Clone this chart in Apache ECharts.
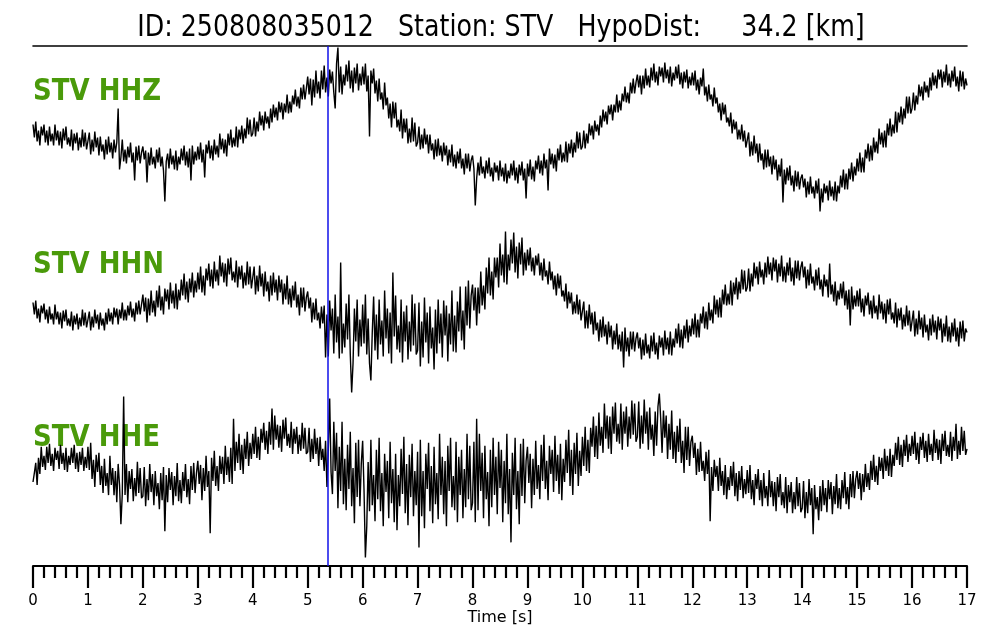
<!DOCTYPE html>
<html>
<head>
<meta charset="utf-8">
<script src="https://cdn.jsdelivr.net/npm/echarts@6/dist/echarts.min.js"></script>
<style>
html,body{margin:0;padding:0;background:#fff;}
#chart{width:1000px;height:640px;}
</style>
</head>
<body>
<div id="chart"></div>
<script>
// ---- data (amplitude in arbitrary units, up = positive) ----
const titleText = 'ID: 250808035012   Station: STV   HypoDist:     34.2 [km]';
const channelNames = ['STV HHZ', 'STV HHN', 'STV HHE'];
const sampleInterval = 0.025;  // seconds between samples
const pickTime = 5.357;        // blue pick line [s]
const timeTicks = [0,1,2,3,4,5,6,7,8,9,10,11,12,13,14,15,16,17];

const hhz = [
 8,-5,11,-9,2,-13,6,-3,8,-10,2,-13,6,-9,-1,-13,8,-8,2,-13,1,-16,4,-8,6,-12,-5,-14,3,-18,-1,-11,0,-18,-5,-15,3,-14,0,-17,
 -16,0,-22,-7,-19,1,-15,-5,-23,-4,-19,-12,-27,-7,-22,-4,-20,-10,-26,-7,-20,-10,24,-37,-25,-7,-29,-17,-31,-14,-25,-10,-30,-20,-48,-14,-28,-13,-31,-20,
 -14,-27,-18,-50,-20,-33,-15,-32,-24,-36,-17,-30,-15,-34,-24,-38,-69,-29,-21,-36,-16,-32,-23,-37,-18,-38,-24,-32,-16,-28,-13,-33,-19,-35,-16,-48,-13,-32,-19,-28,
 -14,-27,-10,-30,-17,-45,-12,-21,-8,-26,-13,-28,-7,-22,-13,-25,-1,-17,-6,-21,-7,-24,-1,-13,3,-15,-5,-14,6,-15,3,-7,7,-11,4,-6,15,-2,13,-4,
 -1,15,-4,11,1,21,7,17,2,21,9,16,4,24,10,28,15,25,12,31,20,30,13,29,20,38,19,31,20,37,28,43,26,36,24,45,33,48,33,44,
 56,38,54,27,53,35,62,39,51,34,62,43,67,40,55,36,63,49,61,40,24,69,85,40,66,38,58,47,68,51,72,44,62,40,65,49,69,42,59,47,
 66,48,69,41,57,-4,62,49,64,39,52,31,54,33,40,23,50,27,35,14,29,5,31,14,30,5,13,1,23,-6,14,0,14,-11,4,-10,15,-9,10,-14,
 -10,6,-17,-2,-16,4,-12,-2,-21,-2,-18,-11,-27,-7,-24,-6,-23,-13,-29,-10,-23,-13,-33,-17,-30,-12,-34,-22,-36,-19,-31,-16,-36,-26,-42,-21,-36,-21,-39,-28,
 -23,-36,-73,-46,-30,-43,-24,-41,-34,-46,-28,-41,-25,-44,-35,-49,-30,-40,-33,-48,-28,-44,-35,-49,-31,-51,-38,-46,-31,-43,-28,-48,-35,-51,-32,-43,-29,-48,-36,-66,
 -31,-44,-27,-47,-34,-49,-28,-37,-23,-41,-28,-43,-21,-36,-27,-58,-16,-32,-21,-36,-22,-39,-16,-28,-12,-30,-20,-29,-9,-30,-11,-21,-7,-25,-10,-20,1,-16,0,-17,
 -14,2,-16,-1,-11,9,-3,7,-7,12,1,8,-3,17,5,23,11,21,8,27,18,28,12,28,20,38,20,32,22,39,31,46,30,40,29,50,39,54,39,50,
 58,45,57,38,57,44,64,47,57,45,65,52,69,50,61,47,66,56,65,50,70,54,63,49,66,46,60,52,66,54,68,48,60,44,61,50,63,44,56,47,
 60,47,62,42,53,38,55,46,64,37,46,31,48,33,38,26,45,29,35,20,29,12,30,18,28,10,15,6,20,-1,13,3,11,-7,3,-7,8,-9,2,-15,
 -16,0,-24,-9,-23,-3,-21,-11,-30,-11,-28,-21,-37,-17,-35,-17,-34,-24,-42,-23,-37,-27,-48,-32,-44,-26,-70,-37,-52,-35,-48,-33,-53,-43,-59,-38,-54,-39,-57,-46,
 -42,-55,-46,-65,-49,-62,-44,-61,-54,-66,-48,-61,-46,-79,-56,-70,-51,-61,-53,-68,-48,-64,-54,-68,-49,-69,-53,-61,-43,-55,-37,-57,-41,-57,-36,-47,-30,-49,-34,-43,
 -26,-39,-20,-40,-25,-40,-17,-26,-11,-29,-13,-28,-5,-20,-9,-21,4,-12,0,-15,2,-15,9,-3,14,-4,8,-1,21,0,20,10,26,8,24,14,36,19,36,19,
 24,40,22,37,28,48,36,46,32,51,40,47,35,55,42,60,47,57,44,63,53,63,45,61,50,68,47,59,45,62,51,66,46,56,41,62,46,61,43,54,
 47
];

const hhn = [
 3,-9,5,-13,-3,-17,0,-8,2,-14,-4,-18,-1,-14,-8,-19,1,-14,-6,-19,-7,-23,-5,-16,-4,-20,-13,-21,-6,-25,-10,-19,-8,-24,-12,-21,-4,-20,-7,-22,
 -20,-6,-25,-11,-22,-4,-18,-9,-24,-7,-20,-13,-25,-7,-19,-3,-16,-7,-19,-2,-12,-3,-19,-4,-13,3,-15,-4,-15,0,-10,4,-12,-3,-16,3,-9,5,-9,1,
 11,-6,8,-17,7,-10,15,-7,5,-11,15,-2,20,-5,9,-9,17,4,16,-4,23,2,15,-3,22,-4,16,5,26,10,32,6,24,3,27,13,33,8,25,13,
 33,16,39,13,30,10,37,25,42,19,36,17,44,24,36,20,50,29,43,23,42,19,47,31,48,25,34,23,45,18,39,26,40,17,33,20,44,21,39,17,
 18,39,11,30,14,40,19,32,9,34,14,24,4,30,10,33,13,26,5,30,13,26,1,22,6,30,1,17,-2,20,5,24,-2,11,-10,18,-2,18,-6,8,
 14,-3,8,-17,3,-14,7,-15,-7,-23,-1,-18,0,-52,-9,-51,5,-25,-3,-48,11,-37,-11,-53,43,-48,-18,-42,2,-34,11,-49,-87,-58,-3,-36,6,-51,-14,-41,
 1,-38,11,-49,-13,-58,-75,-27,9,-45,-9,-54,6,-39,-15,-51,15,-33,-3,-48,-7,-58,33,-31,10,-44,-20,-47,6,-57,-6,-36,0,-54,-16,-46,11,-40,2,-49,
 -45,3,-61,-16,-52,8,-37,-7,-58,-1,-43,-22,-64,-4,-48,6,-38,-8,-52,5,-30,0,-56,-8,-39,15,-46,-10,-47,4,-26,19,-35,-5,-44,19,-20,25,-23,10,
 21,-5,18,-20,18,-8,34,0,20,-4,38,12,48,10,34,6,48,28,48,18,62,30,51,23,74,21,51,35,66,42,73,33,59,27,63,41,68,30,53,35,
 56,40,58,34,48,30,50,40,52,30,43,25,47,29,35,21,44,25,34,16,30,10,32,17,30,9,15,4,22,-3,14,2,13,-9,4,-8,11,-9,6,-15,
 -15,4,-23,-5,-23,1,-19,-7,-29,-6,-25,-17,-36,-14,-32,-11,-31,-19,-39,-16,-32,-20,-44,-25,-39,-18,-44,-29,-46,-26,-62,-22,-46,-32,-51,-26,-44,-26,-46,-33,
 -27,-43,-32,-54,-34,-50,-28,-48,-39,-53,-30,-46,-27,-49,-37,-54,-30,-42,-32,-50,-25,-44,-32,-49,-26,-50,-33,-42,-23,-38,-18,-42,-24,-43,-20,-33,-14,-37,-20,-31,
 -13,-29,-8,-32,-14,-32,-8,-18,-1,-23,-6,-24,3,-15,-4,-18,10,-9,6,-12,8,-12,16,1,21,0,12,1,25,0,23,11,28,6,24,12,36,16,35,14,
 18,37,14,32,19,43,27,39,21,44,28,36,21,43,28,49,31,43,25,48,34,46,23,42,29,50,24,39,23,43,30,48,24,38,20,45,27,45,25,38,
 44,28,39,17,36,20,42,22,29,15,36,20,38,16,26,9,31,19,26,8,42,11,21,4,24,0,15,6,22,7,24,0,15,-4,16,-20,19,-4,10,-1,
 15,-1,17,-7,7,-11,10,0,13,-9,5,-13,10,-8,0,-14,11,-8,4,-14,2,-18,6,-9,7,-14,-7,-18,3,-22,-3,-15,-2,-24,-9,-21,0,-20,-5,-26,
 -24,-5,-31,-13,-29,-5,-24,-12,-32,-9,-27,-19,-35,-13,-30,-9,-27,-15,-34,-11,-25,-13,-37,-18,-31,-10,-36,-21,-37,-17,-31,-13,-36,-22,-41,-16,-33,-15,-36,-23,
 -27
];

const hhe = [
 -3,6,16,-6,21,5,32,12,23,9,32,16,35,13,25,8,31,19,28,10,34,15,26,9,31,7,23,14,31,16,34,10,26,7,27,14,31,8,22,11,
 32,9,36,0,19,-8,24,7,26,-6,13,-14,20,-7,6,-16,23,-6,11,-16,8,-23,15,-6,-45,-15,82,-16,15,-23,8,-10,10,-22,1,-17,17,-14,11,-19,
 -17,12,-27,0,-21,15,-13,5,-26,8,-17,-4,-30,6,-21,12,-52,4,-23,11,-11,7,-26,3,-17,16,-22,-1,-24,7,-12,15,-18,0,-25,13,-11,16,-14,6,
 18,-5,14,-21,11,-12,23,-8,8,-54,21,-2,28,-7,13,-12,23,5,22,-5,33,4,22,-3,31,-5,60,8,37,16,45,9,34,5,40,20,47,13,36,20,
 45,25,52,21,42,19,50,36,56,29,48,25,57,34,70,29,63,39,54,31,53,27,59,40,61,33,45,31,57,25,50,35,52,25,44,28,56,30,51,25,
 27,51,17,40,20,50,25,41,13,42,19,30,8,38,-8,30,80,7,-15,57,8,46,-29,32,-12,57,-25,20,-31,34,-10,47,-27,11,-44,36,-18,39,-27,15,
 38,-11,-78,-47,17,-32,39,-26,4,-42,29,-20,41,-32,6,-47,25,-13,18,-39,37,-24,10,-43,25,-51,4,-27,30,-15,42,-34,15,-46,24,-18,35,-37,8,-26,
 27,-68,39,-37,8,-49,25,-10,36,-32,13,-44,32,-25,6,-40,45,-16,22,-35,18,-47,33,-12,41,-28,3,-31,37,-43,22,-16,29,-39,10,-28,45,-20,33,-31,
 -24,37,-43,60,-31,45,-12,26,-39,33,-20,7,-47,29,-28,41,-16,22,-35,37,-9,29,-43,18,-24,45,-35,10,-63,26,-16,41,-30,8,-45,35,-17,40,-24,18,
 32,-4,25,-29,20,-16,38,-10,14,-20,34,-2,44,-10,18,-21,33,5,29,-13,43,-2,24,-15,35,-21,20,-3,39,6,49,-7,29,-16,36,5,46,-7,28,3,
 42,13,52,8,39,6,51,32,62,22,53,20,66,33,52,26,75,40,63,30,62,25,72,45,76,37,55,35,75,29,67,45,72,32,62,40,78,44,75,37,
 42,77,30,63,35,79,45,67,29,71,39,54,23,67,33,72,85,60,26,68,41,63,20,55,29,68,20,47,16,53,27,60,16,38,6,52,19,52,13,37,
 43,21,36,4,30,7,37,8,18,-2,27,5,29,-42,12,-12,19,2,13,-12,21,-7,8,-16,14,-20,2,-11,13,-7,17,-17,6,-22,8,-11,13,-19,0,-15,
 9,-14,14,-20,-1,-26,5,-10,10,-21,-1,-27,6,-19,-7,-27,9,-18,-2,-27,-3,-32,2,-18,5,-26,-13,-29,2,-34,-6,-23,-3,-34,-13,-30,2,-27,-4,-33,
 -29,-2,-39,-13,-34,0,-26,-9,-55,-6,-30,-18,-41,-7,-32,-1,-26,-9,-33,-1,-20,-3,-35,-7,-25,5,-29,-9,-30,-1,-19,7,-25,-8,-30,5,-18,8,-19,0,
 8,-10,6,-21,5,-13,15,-8,6,-11,18,-1,24,-3,13,-6,22,8,21,0,30,8,23,3,30,2,24,13,36,19,42,14,34,12,39,23,44,17,35,23,
 43,25,47,19,36,15,42,29,46,21,38,17,45,24,35,18,49,26,40,19,39,15,45,28,48,23,34,22,47,18,42,28,55,20,38,24,52,28,48,24,
 30
];

// ---- chart ----
const FONT = 'DejaVu Sans';
const traces = [hhz, hhn, hhe];
const toXY = arr => arr.map((v, i) => [+(i * sampleInterval).toFixed(3), v]);

const gridTops = [46, 219, 392];
const gridH = 173;
const labelColor = '#4a9a0a';
const TEXT_STRETCH = 1.18;

const grids = gridTops.map((t, i) => ({left: 33, right: 33, top: t, height: i === 2 ? 174 : gridH}));

const xAxes = [0, 1, 2].map(i => {
  const base = {
    type: 'value', gridIndex: i, min: timeTicks[0], max: timeTicks[timeTicks.length - 1],
    interval: 1, splitLine: {show: false}
  };
  if (i === 0) {
    return Object.assign(base, {
      position: 'top',
      axisLine: {show: true, onZero: false, lineStyle: {color: '#000', width: 1.6}},
      axisTick: {show: false}, axisLabel: {show: false}
    });
  }
  if (i === 1) {
    return Object.assign(base, {show: false});
  }
  return Object.assign(base, {
    position: 'bottom',
    axisLine: {show: true, onZero: false, lineStyle: {color: '#000', width: 2}},
    axisTick: {show: true, length: 22, lineStyle: {color: '#000', width: 2.2}},
    minorTick: {show: true, splitNumber: 5, length: 12, lineStyle: {color: '#000', width: 2.2}},
    axisLabel: {
      show: true, color: '#000', fontSize: 15, fontFamily: FONT, margin: 28,
      formatter: v => (timeTicks.indexOf(v) >= 0 ? String(v) : '')
    },
    name: 'Time [s]', nameLocation: 'middle', nameGap: 43,
    nameTextStyle: {color: '#000', fontSize: 16, fontFamily: FONT}
  });
});

const yAxes = [0, 1, 2].map(i => ({
  type: 'value', gridIndex: i, min: -86.5, max: 86.5, show: false
}));

const series = traces.map((arr, i) => ({
  type: 'line', name: channelNames[i], xAxisIndex: i, yAxisIndex: i,
  data: toXY(arr), showSymbol: false, symbol: 'none', clip: false,
  lineStyle: {color: '#000', width: 1.4}, z: 3,
  markLine: {
    silent: true, symbol: ['none', 'none'], animation: false,
    label: {show: false},
    lineStyle: {color: '#1010e8', width: 1.5, type: 'solid'},
    data: [{xAxis: pickTime}]
  }
}));

const graphics = [{
  type: 'text', x: 501, y: 28, z: 10, scaleY: TEXT_STRETCH,
  style: {text: titleText, fill: '#000', font: '25.3px "DejaVu Sans"', textAlign: 'center', textVerticalAlign: 'middle'}
}].concat(channelNames.map((n, i) => ({
  type: 'text', x: 33, y: gridTops[i] + 46, z: 1, scaleY: TEXT_STRETCH,
  style: {text: n, fill: labelColor, font: 'bold 26px "DejaVu Sans"', textAlign: 'left', textVerticalAlign: 'middle'}
})));

const chart = echarts.init(document.getElementById('chart'), null, {renderer: 'canvas'});
chart.setOption({
  animation: false,
  backgroundColor: '#fff',
  graphic: {elements: graphics},
  grid: grids,
  xAxis: xAxes,
  yAxis: yAxes,
  series: series
});
</script>
</body>
</html>
